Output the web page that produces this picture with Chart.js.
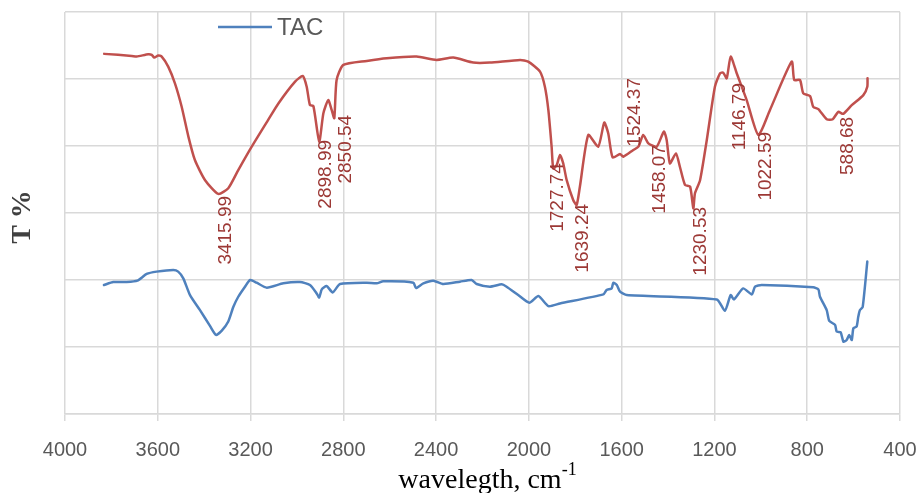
<!DOCTYPE html>
<html>
<head>
<meta charset="utf-8">
<script src="https://cdn.jsdelivr.net/npm/chart.js@4"></script>
<style>
  html, body { margin: 0; padding: 0; background: #fff; }
  canvas { display: block; }
</style>
</head>
<body>
<canvas id="ftirChart" width="919" height="493"></canvas>
<script>
// Upper spectrum: wavenumber (cm-1) / transmittance
const redWn = [3831, 3712, 3691, 3641, 3626, 3615, 3598, 3583, 3555, 3526, 3497, 3468, 3440, 3396, 3339, 3296, 3253, 3195, 3124, 3080,
  3008, 2975, 2958, 2944, 2929, 2904, 2886, 2865, 2850, 2839, 2829, 2800, 2699, 2613, 2484, 2398, 2326, 2240, 2168, 2038,
  2003, 1952, 1931, 1916, 1902, 1895, 1880, 1866, 1852, 1837, 1809, 1794, 1780, 1744, 1701, 1675, 1658, 1639, 1607, 1593,
  1550, 1528, 1507, 1485, 1449, 1418, 1406, 1392, 1366, 1349, 1327, 1305, 1291, 1284, 1262, 1233, 1198, 1176, 1162, 1147,
  1130, 1104, 1061, 1011, 961, 867, 856, 831, 817, 788, 774, 752, 716, 690, 666, 645, 608, 558, 541, 540];
const redT = [107.5, 106.9, 106.7, 107.4, 107.2, 106.4, 107.0, 106.7, 103.7, 98.7, 91.7, 82.8, 75.8, 69.8, 65.7, 67.4, 72.8, 79.8, 87.8, 92.7,
  99.2, 100.9, 97.7, 92.2, 91.9, 81.3, 89.8, 93.7, 90.7, 88.3, 99.7, 104.2, 105.4, 106.2, 106.7, 105.7, 106.4, 104.9, 104.9, 105.7,
  105.2, 102.2, 97.7, 90.7, 79.8, 73.3, 74.3, 77.3, 74.8, 69.8, 63.9, 62.4, 67.9, 83.3, 79.8, 87.0, 83.8, 76.6, 77.6, 76.8,
  78.8, 79.8, 83.3, 80.8, 79.8, 84.3, 81.8, 74.8, 77.8, 73.8, 68.4, 67.9, 61.4, 65.9, 69.8, 81.8, 97.7, 101.7, 101.9, 100.2,
  106.7, 101.7, 93.7, 83.3, 90.7, 105.2, 99.7, 99.7, 95.7, 94.9, 91.7, 91.0, 88.0, 88.0, 90.2, 89.6, 92.2, 95.2, 97.7, 100.2];

// TAC spectrum
const blueWn = [3832, 3792, 3734, 3688, 3648, 3605, 3533, 3512, 3490, 3461, 3418, 3375, 3349, 3324, 3296, 3274, 3253, 3224, 3202, 3174,
  3130, 3059, 2987, 2944, 2915, 2904, 2893, 2872, 2846, 2814, 2699, 2656, 2628, 2498, 2487, 2455, 2412, 2369, 2297, 2247,
  2225, 2168, 2117, 2096, 2046, 1998, 1959, 1916, 1866, 1679, 1665, 1643, 1636, 1621, 1607, 1578, 1190, 1155, 1130, 1116,
  1076, 1039, 1025, 996, 774, 752, 745, 716, 705, 680, 673, 656, 644, 630, 619, 608, 601, 587, 580, 573, 561, 541];
const blueT = [38.5, 39.4, 39.4, 39.8, 41.8, 42.5, 43.0, 42.5, 40.5, 35.5, 31.0, 26.3, 23.6, 24.9, 27.6, 32.0, 35.0, 38.0, 40.0, 39.2,
  37.7, 39.0, 39.4, 38.5, 36.0, 34.8, 37.2, 38.2, 36.3, 38.8, 39.2, 39.0, 39.6, 39.2, 37.6, 39.0, 39.8, 38.8, 39.5, 40.0,
  38.8, 38.0, 38.7, 38.0, 35.5, 33.2, 35.2, 32.2, 33.0, 35.7, 37.0, 37.5, 39.2, 38.5, 36.5, 35.5, 34.2, 30.8, 35.5, 34.2,
  37.5, 35.7, 38.0, 38.5, 37.8, 37.2, 35.0, 31.0, 27.8, 26.6, 24.6, 24.4, 21.6, 22.1, 23.6, 22.1, 25.6, 26.1, 29.0, 31.0, 31.9, 45.5];

// Peak annotations and where each one hangs (cm-1, T)
const peakLabels = ['3415.99', '2898.99', '2850.54', '1727.74', '1639.24', '1524.37', '1458.07', '1230.53', '1146.79', '1022.59', '588.68'];
const peakAtWn = [3306, 2875, 2789, 1875, 1767, 1545, 1437, 1260, 1090, 980, 626];
const peakAtT = [65.1, 81.8, 89.3, 74.9, 62.7, 100.3, 80.3, 61.8, 98.8, 84.2, 88.7];

const sans = '"Liberation Sans", Arial, sans-serif';
const serif = '"Liberation Serif", "Times New Roman", serif';

const toPoints = (xs, ys) => xs.map((w, i) => ({ x: w, y: ys[i] }));

// peak labels, legend and axis titles
const extras = {
  id: 'extras',
  afterDraw(chart) {
    const { ctx, chartArea, scales: { x, y } } = chart;
    ctx.save();

    ctx.font = '19px ' + sans;
    ctx.fillStyle = '#9c3835';
    ctx.textAlign = 'right';
    ctx.textBaseline = 'middle';
    peakLabels.forEach((txt, i) => {
      ctx.save();
      ctx.translate(x.getPixelForValue(peakAtWn[i]), y.getPixelForValue(peakAtT[i]));
      ctx.rotate(-Math.PI / 2);
      ctx.fillText(txt, 0, 0);
      ctx.restore();
    });

    // legend (TAC only)
    const tac = chart.data.datasets[1];
    ctx.strokeStyle = tac.borderColor;
    ctx.lineWidth = 2.5;
    ctx.beginPath();
    ctx.moveTo(218, 27);
    ctx.lineTo(272, 27);
    ctx.stroke();
    ctx.font = '24px ' + sans;
    ctx.fillStyle = '#595959';
    ctx.textAlign = 'left';
    ctx.fillText(tac.label, 277, 28);

    // y title
    ctx.save();
    ctx.translate(23, 217);
    ctx.rotate(-Math.PI / 2);
    ctx.font = 'bold 28px ' + serif;
    ctx.fillStyle = '#404040';
    ctx.textAlign = 'center';
    ctx.fillText('T %', 0, 0);
    ctx.restore();

    // x title with superscript
    const main = 'wavelegth, cm';
    const sup = '-1';
    ctx.font = '28px ' + serif;
    const w1 = ctx.measureText(main).width;
    ctx.font = '18px ' + serif;
    const w2 = ctx.measureText(sup).width;
    const startX = (chartArea.left + chartArea.right) / 2 + 5 - (w1 + w2) / 2;
    ctx.fillStyle = '#000';
    ctx.textBaseline = 'alphabetic';
    ctx.font = '28px ' + serif;
    ctx.fillText(main, startX, 488);
    ctx.font = '18px ' + serif;
    ctx.fillText(sup, startX + w1, 475);

    ctx.restore();
  }
};

new Chart(document.getElementById('ftirChart'), {
  type: 'line',
  data: {
    datasets: [
      {
        label: '',
        data: toPoints(redWn, redT),
        borderColor: '#C0504D',
        borderWidth: 2.5
      },
      {
        label: 'TAC',
        data: toPoints(blueWn, blueT),
        borderColor: '#4F81BD',
        borderWidth: 2.5
      }
    ]
  },
  options: {
    responsive: false,
    animation: false,
    devicePixelRatio: 1,
    layout: { padding: { top: 12, right: 19, left: 0, bottom: 0 } },
    elements: {
      point: { radius: 0 },
      line: { tension: 0.2, borderCapStyle: 'round', borderJoinStyle: 'round' }
    },
    plugins: {
      legend: { display: false },
      tooltip: { enabled: false }
    },
    scales: {
      x: {
        type: 'linear',
        reverse: true,
        min: 400,
        max: 4000,
        ticks: {
          stepSize: 400,
          autoSkip: false,
          maxRotation: 0,
          padding: 17,
          color: '#595959',
          font: { family: sans, size: 20 },
          callback: (v) => String(v)
        },
        grid: { color: '#d9d9d9', lineWidth: 1.5, tickLength: 7, tickColor: '#d9d9d9' },
        border: { color: '#d9d9d9', width: 1.5 },
        afterFit(scale) {
          scale.height = 79;
          scale.paddingLeft = 0;
          scale.paddingRight = 0;
        }
      },
      y: {
        min: 0,
        max: 120,
        ticks: { display: false, stepSize: 20 },
        grid: { color: '#d9d9d9', lineWidth: 1.5, drawTicks: false },
        border: { display: false },
        afterFit(scale) {
          scale.width = 65;
        }
      }
    }
  },
  plugins: [extras]
});
</script>
</body>
</html>
